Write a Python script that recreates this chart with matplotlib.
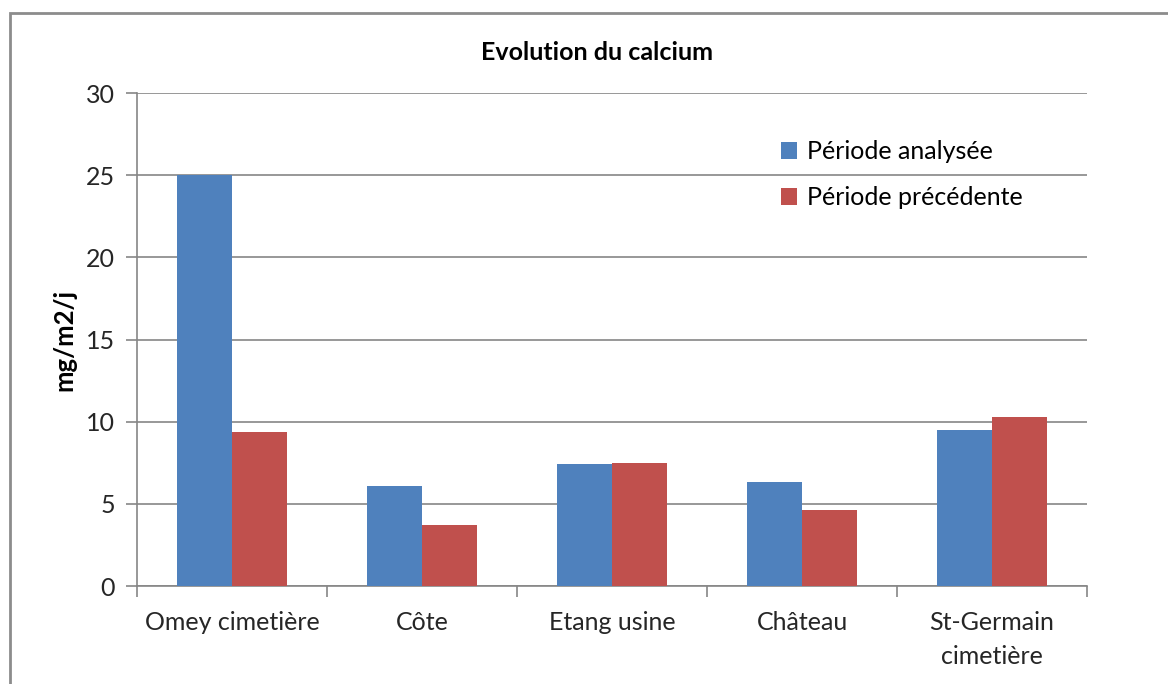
import matplotlib
matplotlib.use("Agg")
import matplotlib.pyplot as plt
import numpy as np

plt.rcParams['font.family'] = ['Lato', 'DejaVu Sans']

# Data
sites = ["Omey cimetière", "Côte", "Etang usine", "Château", "St-Germain\ncimetière"]
periode_analysee = [25.0, 6.1, 7.4, 6.3, 9.5]
periode_precedente = [9.4, 3.7, 7.5, 4.65, 10.3]

blue = "#4F81BD"
red = "#C0504D"
grey = "#868686"

fig = plt.figure(figsize=(11.68, 6.84), dpi=100)
ax = fig.add_axes([137/1168, 1 - 586/684, 950/1168, 493/684])

x = np.arange(len(sites))
w = 0.287
ax.bar(x - w/2, periode_analysee, w, color=blue, label="Période analysée", zorder=3)
ax.bar(x + w/2, periode_precedente, w, color=red, label="Période précédente", zorder=3)

ax.set_xlim(-0.5, len(sites) - 0.5)
ax.set_ylim(0, 30)
ax.set_yticks(np.arange(0, 31, 5))
ax.yaxis.grid(True, color=grey, linewidth=1.2, zorder=0)

# category boundary ticks, labels in the middle
ax.set_xticks(np.arange(-0.5, len(sites), 1))
ax.set_xticklabels([])
ax.set_xticks(x, minor=True)
ax.set_xticklabels(sites, minor=True, fontsize=18, color="#262626", linespacing=1.6)
ax.tick_params(axis='x', which='minor', length=0, pad=18)
ax.tick_params(axis='x', which='major', length=8, color=grey, width=1.2)
ax.tick_params(axis='y', length=8, color=grey, width=1.2, labelsize=18, labelcolor="#262626", pad=8)

for s in ['top', 'right']:
    ax.spines[s].set_visible(False)
for s in ['left', 'bottom']:
    ax.spines[s].set_color(grey)
    ax.spines[s].set_linewidth(1.2)

ax.set_ylabel("mg/m2/j", fontsize=18.5, fontweight='bold', labelpad=7)
fig.text(597/1168, 1 - 52/684, "Evolution du calcium", ha='center', va='center',
         fontsize=18, fontweight='bold')

ax.legend(loc='upper left', bbox_to_anchor=(0.654, 0.95), frameon=False, fontsize=18,
          handlelength=0.65, handleheight=0.65, handletextpad=0.4, labelspacing=0.92)

# outer chart frame
fig.patches.append(plt.Rectangle((10/1168, -0.1), 1.2, 1 - 13/684 + 0.1, transform=fig.transFigure,
                                 fill=False, edgecolor="#8c8c8c", linewidth=2))

fig.savefig("out.png", dpi=100)
